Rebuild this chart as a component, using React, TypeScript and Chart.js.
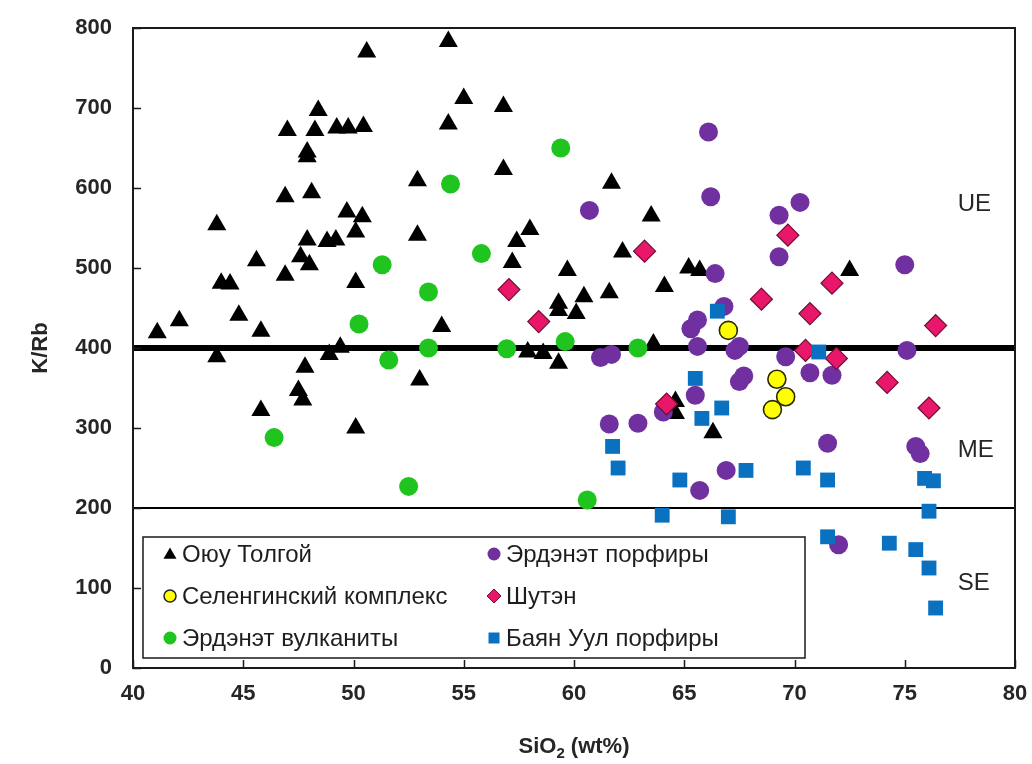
import React, { useEffect, useRef } from 'react';
import { Chart, registerables } from 'chart.js';

Chart.register(...registerables);

// ---- Data: [SiO2 wt%, K/Rb] ----
const oyuTolgoi: [number, number][] = [
  [50.6, 770], [54.3, 783], [48.4, 697], [47.0, 672], [48.25, 672], [49.24, 675], [49.76, 675],
  [50.45, 677], [47.9, 645], [47.9, 639], [55.0, 712], [56.8, 702], [54.3, 680], [56.8, 623],
  [52.9, 609], [61.7, 606], [46.9, 589], [48.1, 594], [43.8, 554], [49.7, 570], [50.4, 564],
  [50.1, 545], [52.9, 541], [47.9, 535], [48.8, 533], [49.2, 535], [47.6, 514], [45.6, 509],
  [48.0, 504], [46.9, 491], [44.0, 481], [44.4, 480], [50.1, 482], [63.5, 565], [58.0, 548],
  [57.4, 533], [62.2, 520], [57.2, 507], [59.7, 497], [64.1, 477], [60.45, 464], [61.6, 469],
  [59.3, 456], [59.3, 447], [60.1, 443], [54.0, 427], [57.9, 395], [58.6, 393], [59.3, 381],
  [53.0, 360], [63.6, 405], [65.2, 500], [65.7, 497], [72.5, 497], [64.6, 333], [64.6, 318],
  [66.3, 294], [41.1, 419], [42.1, 434], [44.8, 441], [45.8, 421], [43.8, 389], [48.9, 392],
  [49.4, 401], [47.8, 376], [47.5, 347], [47.7, 335], [45.8, 322], [50.1, 300],
];

const erdenetPorphyry: [number, number][] = [
  [66.1, 670], [66.2, 589], [60.7, 572], [70.25, 582], [69.3, 566], [69.3, 514], [66.4, 493],
  [66.8, 452], [65.3, 424], [65.6, 435], [61.2, 388], [61.7, 392], [61.6, 305], [62.9, 306],
  [64.05, 320], [65.6, 402], [67.3, 397], [67.5, 402], [69.6, 389], [70.7, 369], [67.5, 358],
  [67.7, 365], [65.5, 341], [66.9, 247], [65.7, 222], [71.5, 281], [75.0, 504], [75.1, 397],
  [71.7, 366], [75.5, 277], [75.7, 268], [72.0, 154],
];

const selenga: [number, number][] = [
  [67.0, 422], [69.2, 361], [69.6, 339], [69.0, 323],
];

const shuten: [number, number][] = [
  [63.2, 521], [57.05, 473], [58.4, 433], [64.2, 330], [69.7, 541], [68.5, 461], [70.7, 443],
  [71.7, 481], [76.4, 428], [70.5, 397], [71.9, 387], [74.2, 357], [76.1, 325],
];

const erdenetVolcanic: [number, number][] = [
  [51.3, 504], [53.4, 470], [50.25, 430], [53.4, 400], [51.6, 385], [46.4, 288], [52.5, 227],
  [59.4, 650], [54.4, 605], [55.8, 518], [56.95, 399], [59.6, 408], [62.9, 400], [60.6, 210],
];

const bayanUul: [number, number][] = [
  [61.75, 277], [62.0, 250], [64.0, 191], [64.8, 235], [66.5, 446], [71.1, 395], [65.5, 362],
  [66.7, 325], [65.8, 312], [67.8, 247], [70.4, 250], [71.5, 235], [67.0, 189], [75.9, 237],
  [76.3, 234], [76.1, 196], [71.5, 164], [74.3, 156], [75.5, 148], [76.1, 125], [76.4, 75],
];

// boundary lines
const ueBoundary: [number, number][] = [[40, 400], [80, 400]];
const seBoundary: [number, number][] = [[40, 200], [80, 200]];

// axes
const xTicks = [40, 45, 50, 55, 60, 65, 70, 75, 80];
const yTicks = [0, 100, 200, 300, 400, 500, 600, 700, 800];

// zone labels
const zoneNames = ['UE', 'ME', 'SE'];
const zoneSiO2 = [77.4, 77.4, 77.4];
const zoneKRb = [580, 272, 106];

const legendNames = [
  'Оюу Толгой', 'Эрдэнэт порфиры',
  'Селенгинский комплекс', 'Шутэн',
  'Эрдэнэт вулканиты', 'Баян Уул порфиры',
];

const FONT = '"Liberation Sans", Arial, Helvetica, sans-serif';
const PURPLE = '#7030A0';
const GREEN = '#1FC41F';
const PINK = '#E8176A';
const PINK_BORDER = '#6E0F33';
const BLUE = '#0A70C0';
const YELLOW = '#FFFF00';
const TEXT = '#262626';

const toPts = (arr: [number, number][]) => arr.map(([x, y]) => ({ x, y }));

function drawMarker(ctx: CanvasRenderingContext2D, kind: string, x: number, y: number) {
  ctx.save();
  ctx.beginPath();
  if (kind === 'triangle') {
    const r = 7.5;
    ctx.moveTo(x, y - r);
    ctx.lineTo(x + r * 0.866, y + r * 0.5);
    ctx.lineTo(x - r * 0.866, y + r * 0.5);
    ctx.closePath();
    ctx.fillStyle = '#000';
    ctx.fill();
  } else if (kind === 'yellow') {
    ctx.arc(x, y, 6, 0, Math.PI * 2);
    ctx.fillStyle = YELLOW;
    ctx.fill();
    ctx.lineWidth = 1.5;
    ctx.strokeStyle = '#222';
    ctx.stroke();
  } else if (kind === 'green' || kind === 'purple') {
    ctx.arc(x, y, 6.5, 0, Math.PI * 2);
    ctx.fillStyle = kind === 'green' ? GREEN : PURPLE;
    ctx.fill();
  } else if (kind === 'diamond') {
    const r = 7;
    ctx.moveTo(x, y - r);
    ctx.lineTo(x + r, y);
    ctx.lineTo(x, y + r);
    ctx.lineTo(x - r, y);
    ctx.closePath();
    ctx.fillStyle = PINK;
    ctx.fill();
    ctx.lineWidth = 1;
    ctx.strokeStyle = PINK_BORDER;
    ctx.stroke();
  } else if (kind === 'square') {
    ctx.rect(x - 5.5, y - 5.5, 11, 11);
    ctx.fillStyle = BLUE;
    ctx.fill();
  }
  ctx.restore();
}

const decorPlugin = {
  id: 'decor',
  afterDatasetsDraw(chart: any) {
    const { ctx, chartArea: a, scales } = chart;
    const xs = scales.x;
    const ys = scales.y;
    ctx.save();

    // frame
    ctx.strokeStyle = '#1a1a1a';
    ctx.lineWidth = 2;
    ctx.strokeRect(a.left, a.top, a.right - a.left, a.bottom - a.top);

    // inward ticks
    ctx.lineWidth = 1.5;
    ctx.beginPath();
    xTicks.forEach((v) => {
      const px = Math.round(xs.getPixelForValue(v)) + 0.5;
      ctx.moveTo(px, a.bottom);
      ctx.lineTo(px, a.bottom - 8);
    });
    yTicks.forEach((v) => {
      const py = Math.round(ys.getPixelForValue(v)) + 0.5;
      ctx.moveTo(a.left, py);
      ctx.lineTo(a.left + 8, py);
    });
    ctx.stroke();

    // zone labels
    ctx.fillStyle = TEXT;
    ctx.font = `24px ${FONT}`;
    ctx.textAlign = 'left';
    ctx.textBaseline = 'middle';
    zoneNames.forEach((t, i) => {
      ctx.fillText(t, xs.getPixelForValue(zoneSiO2[i]), ys.getPixelForValue(zoneKRb[i]));
    });

    // legend box
    const lx = 143, ly = 537, lw = 662, lh = 121;
    ctx.fillStyle = '#fff';
    ctx.fillRect(lx, ly, lw, lh);
    ctx.strokeStyle = '#1a1a1a';
    ctx.lineWidth = 1.5;
    ctx.strokeRect(lx, ly, lw, lh);
    const kinds = ['triangle', 'purple', 'yellow', 'diamond', 'green', 'square'];
    const rowsY = [554, 596, 638];
    const colMarkerX = [170, 494];
    const colTextX = [182, 506];
    ctx.font = `24px ${FONT}`;
    ctx.textBaseline = 'middle';
    legendNames.forEach((name, i) => {
      const col = i % 2;
      const row = Math.floor(i / 2);
      drawMarker(ctx, kinds[i], colMarkerX[col], rowsY[row] + (kinds[i] === 'triangle' ? 1 : 0));
      ctx.fillStyle = '#1e1e1e';
      ctx.fillText(name, colTextX[col], rowsY[row] + 1);
    });

    ctx.restore();
  },
  afterDraw(chart: any) {
    const { ctx, chartArea: a } = chart;
    ctx.save();
    ctx.fillStyle = TEXT;
    // y title
    ctx.font = `bold 22px ${FONT}`;
    ctx.textAlign = 'center';
    ctx.textBaseline = 'middle';
    ctx.save();
    ctx.translate(41, (a.top + a.bottom) / 2);
    ctx.rotate(-Math.PI / 2);
    ctx.fillText('K/Rb', 0, 0);
    ctx.restore();

    // x title with subscript
    const big = `bold 22px ${FONT}`;
    const small = `bold 15px ${FONT}`;
    ctx.textAlign = 'left';
    ctx.textBaseline = 'alphabetic';
    ctx.font = big;
    const w1 = ctx.measureText('SiO').width;
    const w3 = ctx.measureText(' (wt%)').width;
    ctx.font = small;
    const w2 = ctx.measureText('2').width;
    const total = w1 + w2 + w3;
    const cx = (a.left + a.right) / 2;
    let x = cx - total / 2;
    const base = 753;
    ctx.font = big;
    ctx.fillText('SiO', x, base);
    x += w1;
    ctx.font = small;
    ctx.fillText('2', x, base + 5);
    x += w2;
    ctx.font = big;
    ctx.fillText(' (wt%)', x, base);
    ctx.restore();
  },
};

export default function App() {
  const ref = useRef<HTMLCanvasElement | null>(null);

  useEffect(() => {
    if (!ref.current) return;
    const tickFont = { family: FONT, size: 22, weight: 'bold' as const };
    const chart = new Chart(ref.current, {
      type: 'scatter',
      data: {
        datasets: [
          {
            label: 'Баян Уул порфиры',
            data: toPts(bayanUul),
            pointStyle: 'rect',
            pointRadius: 10.5,
            backgroundColor: BLUE,
            borderColor: BLUE,
            borderWidth: 0,
            order: 1,
          },
          {
            label: 'Эрдэнэт вулканиты',
            data: toPts(erdenetVolcanic),
            pointStyle: 'circle',
            pointRadius: 9.5,
            backgroundColor: GREEN,
            borderColor: GREEN,
            borderWidth: 0,
            order: 2,
          },
          {
            label: 'Шутэн',
            data: toPts(shuten),
            pointStyle: 'rectRot',
            pointRadius: 11,
            backgroundColor: PINK,
            borderColor: PINK_BORDER,
            borderWidth: 1.2,
            order: 3,
          },
          {
            label: 'Селенгинский комплекс',
            data: toPts(selenga),
            pointStyle: 'circle',
            pointRadius: 9,
            backgroundColor: YELLOW,
            borderColor: '#2a2a00',
            borderWidth: 1.6,
            order: 4,
          },
          {
            label: 'Эрдэнэт порфиры',
            data: toPts(erdenetPorphyry),
            pointStyle: 'circle',
            pointRadius: 9.5,
            backgroundColor: PURPLE,
            borderColor: PURPLE,
            borderWidth: 0,
            order: 5,
          },
          {
            label: 'Оюу Толгой',
            data: toPts(oyuTolgoi),
            pointStyle: 'triangle',
            pointRadius: 11,
            backgroundColor: '#000',
            borderColor: '#000',
            borderWidth: 0,
            order: 6,
          },
          {
            label: 'UE/ME',
            data: toPts(ueBoundary),
            showLine: true,
            pointRadius: 0,
            borderColor: '#000',
            borderWidth: 6,
            order: 10,
          },
          {
            label: 'ME/SE',
            data: toPts(seBoundary),
            showLine: true,
            pointRadius: 0,
            borderColor: '#000',
            borderWidth: 1.8,
            order: 11,
          },
        ],
      },
      options: {
        responsive: false,
        maintainAspectRatio: false,
        animation: false,
        devicePixelRatio: 1,
        events: [],
        layout: { padding: { top: 28, right: 17, left: 0, bottom: 0 } },
        plugins: {
          legend: { display: false },
          tooltip: { enabled: false },
        },
        scales: {
          x: {
            type: 'linear',
            min: 40,
            max: 80,
            ticks: { stepSize: 5, font: tickFont, color: TEXT, padding: 0 },
            grid: { display: false, drawTicks: true, tickLength: 13 },
            border: { display: false },
            afterFit: (s: any) => { s.height = 96; },
          },
          y: {
            type: 'linear',
            min: 0,
            max: 800,
            ticks: { stepSize: 100, font: tickFont, color: TEXT, padding: 0 },
            grid: { display: false, drawTicks: true, tickLength: 21 },
            border: { display: false },
            afterFit: (s: any) => { s.width = 133; },
          },
        },
      },
      plugins: [decorPlugin],
    });
    return () => chart.destroy();
  }, []);

  return (
    <div style={{ position: 'fixed', left: 0, top: 0, width: 1032, height: 764, background: '#fff' }}>
      <canvas ref={ref} width={1032} height={764} style={{ display: 'block' }} />
    </div>
  );
}
